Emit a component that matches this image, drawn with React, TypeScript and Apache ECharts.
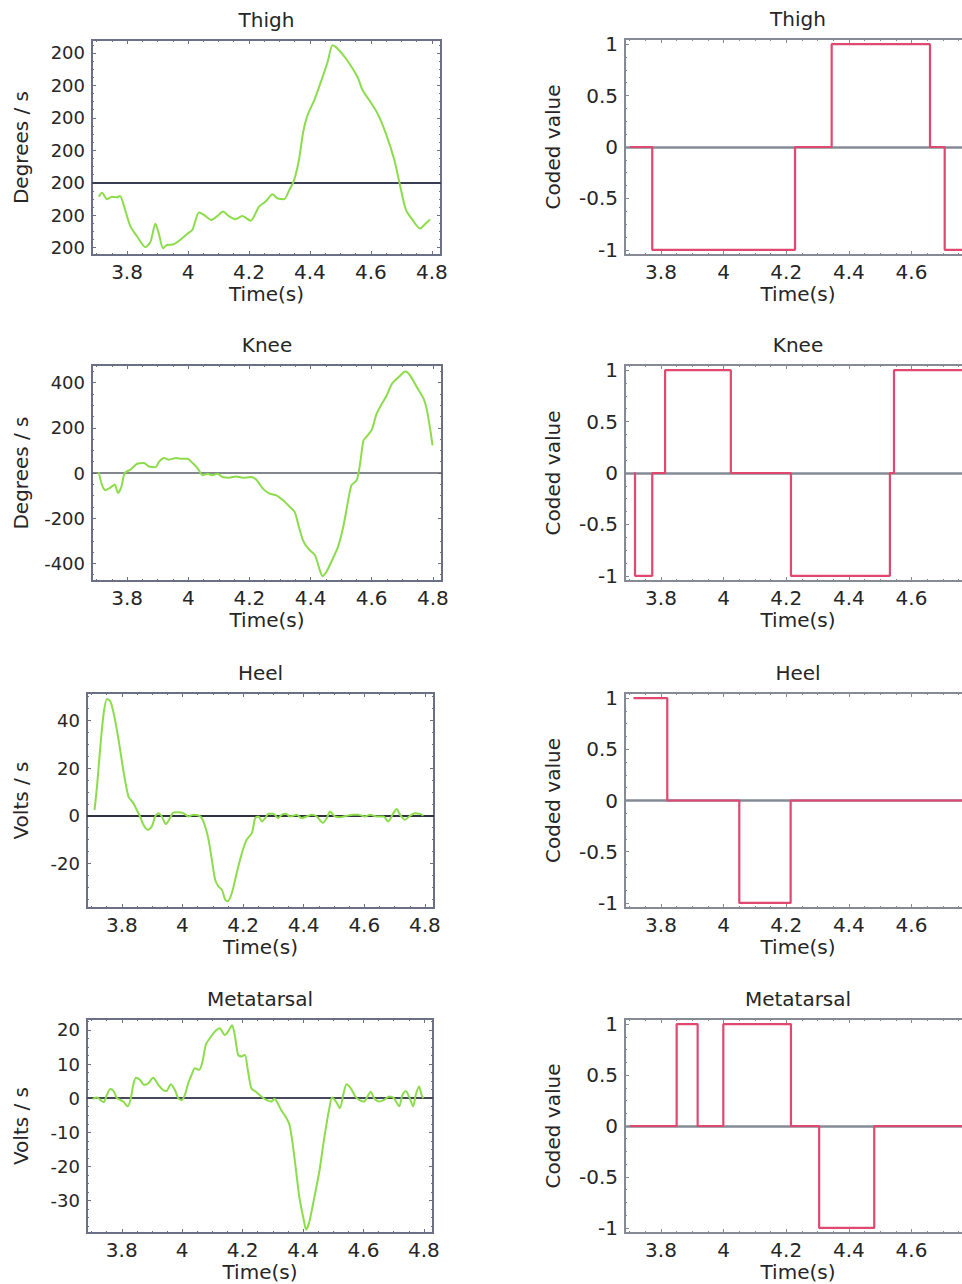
import React, { useEffect, useRef } from 'react';
import * as echarts from 'echarts';

// ---------- Data ----------
const plotTitles = ['Thigh', 'Knee', 'Heel', 'Metatarsal'];
const leftYNames = ['Degrees / s', 'Degrees / s', 'Volts / s', 'Volts / s'];
const rightYName = 'Coded value';
const xName = 'Time(s)';

// Thigh y tick labels as printed in the reference (all read "200")
const thighYTickValues = [-200, -100, 0, 100, 200, 300, 400];
const thighYTickLabels = ['200', '200', '200', '200', '200', '200', '200'];

const thighT = [3.707, 3.718, 3.734, 3.75, 3.766, 3.777, 3.789, 3.811, 3.833, 3.86, 3.877, 3.893, 3.904, 3.918, 3.931, 3.953, 3.975, 3.997, 4.014, 4.036, 4.052, 4.076, 4.096, 4.115, 4.134, 4.156, 4.178, 4.205, 4.233, 4.255, 4.277, 4.293, 4.315, 4.332, 4.348, 4.364, 4.378, 4.392, 4.414, 4.436, 4.458, 4.474, 4.49, 4.518, 4.556, 4.573, 4.595, 4.622, 4.649, 4.677, 4.693, 4.715, 4.737, 4.761, 4.781, 4.794];
const thighV = [-43, -31, -51, -43, -45, -41, -69, -135, -166, -199, -182, -127, -156, -202, -192, -190, -176, -158, -146, -92, -99, -115, -103, -89, -103, -113, -103, -117, -74, -58, -36, -48, -51, -23, 8, 70, 157, 208, 254, 311, 372, 424, 414, 383, 326, 285, 254, 213, 152, 70, 3, -84, -115, -141, -125, -113];

const kneeT = [3.707, 3.718, 3.729, 3.745, 3.759, 3.77, 3.781, 3.792, 3.811, 3.833, 3.855, 3.871, 3.893, 3.904, 3.921, 3.937, 3.959, 3.981, 3.997, 4.014, 4.03, 4.047, 4.063, 4.079, 4.096, 4.112, 4.134, 4.156, 4.178, 4.205, 4.222, 4.244, 4.266, 4.288, 4.31, 4.332, 4.348, 4.359, 4.375, 4.392, 4.414, 4.43, 4.439, 4.452, 4.468, 4.49, 4.507, 4.523, 4.534, 4.551, 4.562, 4.573, 4.584, 4.6, 4.616, 4.633, 4.649, 4.666, 4.688, 4.71, 4.726, 4.748, 4.77, 4.781, 4.792, 4.799];
const kneeV = [4, -54, -76, -65, -51, -88, -62, 0, 15, 41, 44, 29, 26, 49, 66, 59, 66, 63, 63, 44, 22, -10, -3, -10, -3, -18, -21, -15, -21, -18, -29, -69, -91, -99, -121, -150, -172, -224, -297, -334, -363, -429, -456, -437, -393, -326, -238, -121, -54, -32, 41, 144, 162, 191, 262, 306, 343, 394, 424, 449, 431, 379, 328, 276, 188, 122];

const heelT = [3.71, 3.718, 3.729, 3.74, 3.751, 3.762, 3.773, 3.789, 3.805, 3.822, 3.838, 3.849, 3.86, 3.871, 3.886, 3.899, 3.91, 3.921, 3.932, 3.945, 3.959, 3.97, 3.987, 4.003, 4.02, 4.036, 4.053, 4.064, 4.075, 4.086, 4.097, 4.108, 4.119, 4.13, 4.141, 4.149, 4.163, 4.179, 4.196, 4.212, 4.229, 4.24, 4.251, 4.262, 4.273, 4.284, 4.3, 4.316, 4.327, 4.342, 4.355, 4.377, 4.393, 4.41, 4.426, 4.443, 4.463, 4.476, 4.487, 4.503, 4.52, 4.542, 4.564, 4.58, 4.602, 4.619, 4.641, 4.663, 4.679, 4.696, 4.707, 4.718, 4.734, 4.751, 4.767, 4.784, 4.795];
const heelV = [2.5, 12.3, 29, 43, 49, 48, 43, 32, 19, 8, 5.3, 2.5, -0.3, -3.8, -5.9, -4.5, -0.3, 1.1, -0.3, -3.5, -1, 1.4, 1.5, 1.1, -0.3, 0.4, 0.1, -1, -4.5, -10, -18.5, -26.9, -29.7, -31, -35.2, -35.9, -32.4, -24, -15.7, -10, -7.3, -1, -0.3, -2.4, -1, 0.8, 0.8, -1, 0.4, 0.8, -0.3, 0.4, -1, -0.3, 0.4, -0.3, -3, -1, 1.8, -0.3, -0.6, 0, 0.4, 0.4, -0.3, 0.4, -0.3, -0.3, -2.4, 1.1, 2.8, 0.4, -1.7, 0, 1.1, 0.8, 0];

const metaT = [3.704, 3.718, 3.729, 3.74, 3.751, 3.762, 3.773, 3.784, 3.795, 3.805, 3.82, 3.83, 3.838, 3.847, 3.86, 3.874, 3.888, 3.904, 3.921, 3.937, 3.948, 3.962, 3.976, 3.987, 3.998, 4.009, 4.02, 4.031, 4.042, 4.056, 4.067, 4.078, 4.091, 4.108, 4.124, 4.141, 4.152, 4.165, 4.174, 4.185, 4.196, 4.207, 4.218, 4.229, 4.245, 4.262, 4.278, 4.295, 4.305, 4.316, 4.327, 4.342, 4.355, 4.366, 4.377, 4.388, 4.401, 4.41, 4.421, 4.437, 4.454, 4.47, 4.487, 4.496, 4.509, 4.522, 4.533, 4.544, 4.558, 4.573, 4.586, 4.602, 4.613, 4.624, 4.635, 4.652, 4.668, 4.685, 4.701, 4.718, 4.729, 4.74, 4.753, 4.764, 4.773, 4.784, 4.792, 4.798];
const metaV = [-0.2, 0.2, -0.5, -1.2, 1, 2.7, 2.1, 0, -0.5, -1, -2.4, 0, 3.9, 6, 5.4, 3.9, 4.4, 6, 3.9, 2.4, 2.1, 4.1, 2.4, 0, -0.5, 1, 4.4, 6.8, 8.8, 8.3, 10.7, 15.6, 17.5, 19.5, 20.5, 18.5, 19.5, 21.4, 18.5, 12.7, 12.2, 12.7, 7.8, 2.9, 1.8, 0.5, -0.5, -1, -0.2, -1.5, -3.4, -5.4, -7.8, -13.6, -21.4, -29.2, -35.1, -38.5, -36.1, -29.2, -21.4, -11.7, -2.9, 0.2, -1, -2.9, 1, 4.1, 2.9, 0.5, -0.5, -1, 0.5, 1.9, 0, -1, -0.5, 0.5, 0, -2.4, 1, 2.1, 0, -2.4, 1, 3.4, 1, 0];

// Coded values (step signals): each value holds from its time until the next time
const codeThighT = [3.701, 3.772, 4.228, 4.345, 4.659, 4.706, 4.79];
const codeThighV = [0, -1, 0, 1, 0, -1, -1];
const codeKneeT = [3.714, 3.717, 3.772, 3.813, 4.023, 4.215, 4.531, 4.544, 4.79];
const codeKneeV = [0, -1, 0, 1, 0, -1, 0, 1, 1];
const codeHeelT = [3.712, 3.82, 4.05, 4.214, 4.79];
const codeHeelV = [1, 0, -1, 0, 0];
const codeMetaT = [3.7, 3.85, 3.917, 3.999, 4.215, 4.305, 4.481, 4.79];
const codeMetaV = [0, 1, 0, 1, 0, -1, 0, 0];

const leftTimes = [thighT, kneeT, heelT, metaT];
const leftValues = [thighV, kneeV, heelV, metaV];
const rightTimes = [codeThighT, codeKneeT, codeHeelT, codeMetaT];
const rightValues = [codeThighV, codeKneeV, codeHeelV, codeMetaV];

const leftYMin = [-223, -478, -38.7, -39.5];
const leftYMax = [440, 478, 51.5, 23.2];
const leftXRange = [3.685, 4.83];
const rightXRange = [3.685, 4.79];
const rightYRange = [-1.05, 1.05];

// ---------- Layout / style ----------
const FONT = 'DejaVu Sans';
const TEXT = '#262626';
const GREEN = '#8cdc4c';
const RED = '#e04870';

const leftGrids = [
  { left: 92, top: 40, width: 349, height: 215 },
  { left: 92, top: 365, width: 350, height: 216 },
  { left: 87, top: 693, width: 347, height: 215 },
  { left: 87, top: 1019, width: 346, height: 214 },
];
const rightGrids = [
  { left: 625, top: 39, width: 346, height: 216 },
  { left: 625, top: 365, width: 346, height: 216 },
  { left: 625, top: 693, width: 346, height: 215 },
  { left: 625, top: 1019, width: 346, height: 214 },
];
const leftZeroColor = ['#3a3e52', '#5c5f68', '#2f3240', '#454858'];
const leftZeroWidth = [2, 1.5, 2, 2];

function zip(t: number[], v: number[]) {
  return t.map((x, i) => [x, v[i]]);
}

function buildOption() {
  const grid: any[] = [];
  const xAxis: any[] = [];
  const yAxis: any[] = [];
  const series: any[] = [];
  const title: any[] = [];

  const addPlot = (
    g: any,
    row: number,
    xr: number[],
    yMin: number,
    yMax: number,
    yName: string,
    frameColor: string,
    yFormatter: any,
    yFont: number,
    yNameGap: number,
  ) => {
    const gi = grid.length;
    grid.push({ ...g, show: true, borderColor: frameColor, borderWidth: 2, backgroundColor: '#ffffff', containLabel: false });
    title.push({
      text: plotTitles[row],
      left: g.left + g.width / 2,
      top: g.top - 30,
      textAlign: 'center',
      padding: 0,
      textStyle: { fontFamily: FONT, fontSize: 20, fontWeight: 'normal', color: TEXT },
    });
    const tickStyle = { color: frameColor, width: 1 };
    const common = {
      gridIndex: gi,
      type: 'value',
      axisLine: { show: false, onZero: false },
      splitLine: { show: false },
      axisTick: { show: true, inside: true, length: 4, lineStyle: tickStyle },
      minorTick: { show: true, inside: true, splitNumber: 4, length: 2, lineStyle: tickStyle },
    };
    xAxis.push({
      ...common,
      min: xr[0],
      max: xr[1],
      splitNumber: 6,
      position: 'bottom',
      axisLabel: { showMinLabel: false, showMaxLabel: false, fontFamily: FONT, fontSize: 20, color: TEXT, margin: 7 },
      name: xName,
      nameLocation: 'middle',
      nameGap: 29,
      nameTextStyle: { fontFamily: FONT, fontSize: 20, color: TEXT },
    });
    xAxis.push({
      ...common,
      min: xr[0],
      max: xr[1],
      splitNumber: 6,
      position: 'top',
      axisLabel: { show: false },
    });
    yAxis.push({
      ...common,
      min: yMin,
      max: yMax,
      splitNumber: 5,
      position: 'left',
      axisLabel: {
        showMinLabel: false,
        showMaxLabel: false,
        fontFamily: FONT,
        fontSize: yFont,
        color: TEXT,
        margin: 7,
        formatter: yFormatter,
      },
      name: yName,
      nameLocation: 'middle',
      nameGap: yNameGap,
      nameTextStyle: { fontFamily: FONT, fontSize: 20, color: TEXT },
    });
    yAxis.push({
      ...common,
      min: yMin,
      max: yMax,
      splitNumber: 5,
      position: 'right',
      axisLabel: { show: false },
    });
    return { xi: xAxis.length - 2, yi: yAxis.length - 2 };
  };

  for (let r = 0; r < 4; r++) {
    const yFmt =
      r === 0
        ? (v: number) => {
            const k = thighYTickValues.indexOf(Math.round(v));
            return k >= 0 ? thighYTickLabels[k] : '';
          }
        : undefined;
    const L = addPlot(leftGrids[r], r, leftXRange, leftYMin[r], leftYMax[r], leftYNames[r], '#6c7086', yFmt, 18, r < 2 ? 61 : 56);
    series.push({
      type: 'line',
      xAxisIndex: L.xi,
      yAxisIndex: L.yi,
      data: zip(leftTimes[r], leftValues[r]),
      showSymbol: false,
      smooth: 0.25,
      lineStyle: { color: GREEN, width: 2 },
      z: 3,
      markLine: {
        silent: true,
        symbol: ['none', 'none'],
        label: { show: false },
        lineStyle: { color: leftZeroColor[r], width: leftZeroWidth[r], type: 'solid' },
        data: [{ yAxis: 0 }],
        z: 2,
      },
    });
    const R = addPlot(rightGrids[r], r, rightXRange, rightYRange[0], rightYRange[1], rightYName, '#868a94', undefined, 20, 62);
    series.push({
      type: 'line',
      xAxisIndex: R.xi,
      yAxisIndex: R.yi,
      data: zip(rightTimes[r], rightValues[r]),
      step: 'end',
      showSymbol: false,
      lineStyle: { color: RED, width: 2.2 },
      z: 3,
      markLine: {
        silent: true,
        symbol: ['none', 'none'],
        label: { show: false },
        lineStyle: { color: '#858b96', width: 2.5, type: 'solid' },
        data: [{ yAxis: 0 }],
        z: 2,
      },
    });
  }

  return {
    animation: false,
    backgroundColor: '#ffffff',
    textStyle: { fontFamily: FONT },
    title,
    grid,
    xAxis,
    yAxis,
    series,
  };
}

export default function App() {
  const ref = useRef<HTMLDivElement>(null);
  useEffect(() => {
    if (!ref.current) return;
    const chart = echarts.init(ref.current, undefined, { renderer: 'svg' });
    chart.setOption(buildOption() as any);
    return () => chart.dispose();
  }, []);
  return (
    <div style={{ position: 'fixed', left: 0, top: 0, width: 962, height: 1284, overflow: 'hidden', background: '#fff' }}>
      <div ref={ref} style={{ width: 990, height: 1284 }} />
    </div>
  );
}
